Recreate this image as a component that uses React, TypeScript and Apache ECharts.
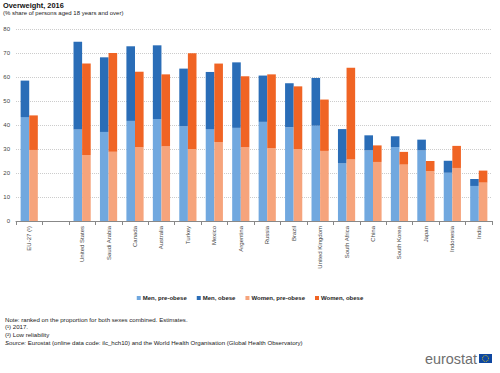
import React, { useEffect, useRef } from "react";
import * as echarts from "echarts";

const categories = ["EU-27 (¹)", "", "United States", "Saudi Arabia", "Canada", "Australia", "Turkey", "Mexico", "Argentina", "Russia", "Brazil", "United Kingdom", "South Africa", "China", "South Korea", "Japan", "Indonesia", "India"];
const menPreObese = [43.3, null, 38.1, 37.1, 41.7, 42.5, 39.4, 38.3, 38.8, 41.3, 39.0, 39.7, 24.0, 29.4, 30.8, 29.4, 20.1, 14.6];
const menObese = [15.2, null, 36.6, 31.1, 31.1, 30.7, 24.1, 23.8, 27.3, 19.3, 18.4, 19.9, 14.3, 6.3, 4.5, 4.5, 5.0, 2.9];
const womenPreObese = [29.6, null, 27.5, 28.9, 30.7, 31.1, 30.0, 32.9, 30.7, 30.3, 30.0, 29.2, 25.6, 24.6, 23.5, 20.8, 22.1, 16.0];
const womenObese = [14.4, null, 38.1, 41.1, 31.5, 30.0, 39.9, 32.7, 29.6, 30.8, 26.1, 21.4, 38.3, 6.9, 5.3, 4.2, 9.2, 5.0];
const yTicks = { min: 0, max: 80, interval: 10 };

const title = "Overweight, 2016";
const subtitle = "(% share of persons aged 18 years and over)";
const notes = [
  "Note: ranked on the proportion for both sexes combined. Estimates.",
  "(¹) 2017.",
  "(²) Low reliability",
];
const sourceText = "Eurostat (online data code: ilc_hch10) and the World Health Organisation (Global Health Observatory)";

const FONT = "Liberation Sans, Arial, sans-serif";

export default function App() {
  const ref = useRef<HTMLDivElement>(null);
  useEffect(() => {
    document.body.style.margin = "0";
    const chart = echarts.init(ref.current!, null, { renderer: "svg" });
    const barW = 8.6;
    const mk = (name: string, stack: string, color: string, data: (number | null)[]) => ({
      name,
      type: "bar",
      stack,
      data,
      barWidth: barW,
      barGap: "0%",
      itemStyle: { color },
    });
    chart.setOption({
      animation: false,
      textStyle: { fontFamily: FONT },
      grid: { left: 16, right: 8, top: 29, bottom: 152 },
      legend: {
        top: 290,
        left: "center",
        itemWidth: 4,
        itemHeight: 4,
        itemGap: 10,
        icon: "rect",
        textStyle: { fontSize: 6, fontWeight: "bold", color: "#222", fontFamily: FONT, padding: [0, 0, 0, -3] },
        data: ["Men, pre-obese", "Men, obese", "Women, pre-obese", "Women, obese"],
      },
      xAxis: {
        type: "category",
        data: categories,
        axisLine: { lineStyle: { color: "#888", width: 1 } },
        axisTick: { show: true, length: 4, lineStyle: { color: "#888" } },
        axisLabel: { rotate: 90, fontSize: 6, color: "#444", margin: 5, interval: 0, fontFamily: FONT },
      },
      yAxis: {
        type: "value",
        min: yTicks.min,
        max: yTicks.max,
        interval: yTicks.interval,
        axisLine: { show: false },
        axisTick: { show: false },
        axisLabel: { fontSize: 6, color: "#444", margin: 6, fontFamily: FONT },
        splitLine: { lineStyle: { color: "#ccc", type: "dotted", width: 1 } },
      },
      series: [
        mk("Men, pre-obese", "men", "#71A8DF", menPreObese),
        mk("Men, obese", "men", "#2A6DB7", menObese),
        mk("Women, pre-obese", "women", "#F6A47C", womenPreObese),
        mk("Women, obese", "women", "#F06424", womenObese),
      ],
      graphic: [
        { type: "text", left: 3, top: 2, style: { text: title, fontSize: 7.4, fontWeight: "bold", fill: "#111", fontFamily: FONT } },
        { type: "text", left: 3, top: 10, style: { text: subtitle, fontSize: 6, fill: "#222", fontFamily: FONT } },
        ...notes.map((t, i) => ({
          type: "text",
          x: 5,
          y: 319 + i * 7.7,
          style: { text: t, fontSize: 6.1, fill: "#222", fontFamily: FONT, verticalAlign: "middle" },
        })),
        {
          type: "text",
          x: 5,
          y: 342.2,
          style: {
            text: "{i|Source:} " + sourceText,
            fontSize: 6.1,
            fill: "#222",
            fontFamily: FONT,
            verticalAlign: "middle",
            rich: { i: { fontStyle: "italic", fontSize: 6.1, fill: "#222", fontFamily: FONT } },
          },
        },
        {
          type: "text",
          x: 425,
          y: 359,
          style: { text: "eurostat", fontSize: 14.4, fill: "#6e6e6e", fontFamily: FONT, verticalAlign: "middle" },
        },
        { type: "rect", shape: { x: 479, y: 354, width: 13, height: 9 }, style: { fill: "#0E47A1" } },
        {
          type: "circle",
          shape: { cx: 485.5, cy: 358.5, r: 3 },
          style: { fill: "none", stroke: "#FFDD00", lineWidth: 0.9, lineDash: [0.8, 0.8] },
        },
      ],
    });
    return () => chart.dispose();
  }, []);
  return <div ref={ref} style={{ width: 500, height: 373, position: "absolute", left: 0, top: 0 }} />;
}
